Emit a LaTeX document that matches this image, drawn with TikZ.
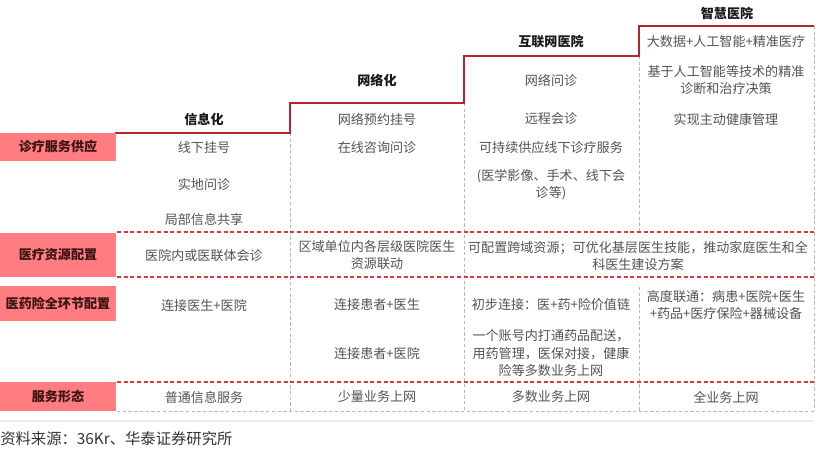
\documentclass[tikz,border=0pt]{standalone}
\usepackage{fontspec}
\setmainfont{Noto Sans CJK SC}
\begin{document}
\begin{tikzpicture}[x=0.75pt,y=-0.75pt,
  txt/.style={font=\fontsize{9.8}{12.75}\selectfont, text=black!68, align=center, inner sep=0pt},
  hdr/.style={font=\fontsize{9.8}{12}\selectfont\bfseries, text=black!90, inner sep=0pt},
  labbox/.style={fill=labfill, draw=none, minimum width=87pt, inner sep=0pt, font=\fontsize{9.8}{12}\selectfont\bfseries, text=labtext},
  stepline/.style={draw=stepred, line width=1.5pt},
  reddash/.style={draw=dashred, line width=1.1pt, dash pattern=on 3pt off 2pt},
  graydash/.style={draw=black!28, line width=0.6pt, dash pattern=on 2.5pt off 1.8pt},
]
\definecolor{labfill}{HTML}{FF7C80}
\definecolor{labtext}{HTML}{3A1414}
\definecolor{stepred}{HTML}{B5262B}
\definecolor{dashred}{HTML}{D9383E}
\useasboundingbox (0,0) rectangle (822,452);

% step line
\coordinate (s0) at (115,133);
\coordinate (s1) at (290,133);
\coordinate (s2) at (290,103);
\coordinate (s3) at (464,103);
\coordinate (s4) at (464,56);
\coordinate (s5) at (639,56);
\coordinate (s6) at (639,26);
\coordinate (s7) at (814,26);

% vertical gray dashed dividers
\draw[graydash] (s1) -- (290,411);
\draw[graydash] (s3) -- (464,411);
\draw[graydash] (s5) -- (639,232);
\draw[graydash] (639,287) -- (639,411);
\draw[graydash] (s7) -- (814,411);
% bottom gray dashed
\draw[graydash] (117,411) -- (814,411);
% red dashed row separators
\draw[reddash] (117,232) -- (814,232);
\draw[reddash] (117,277) -- (814,277);
\draw[reddash] (117,382) -- (814,382);
% faint rule above source
\draw[black!7, line width=0.8pt] (0,421) -- (814,421);

\draw[stepline] (s0) -- (s1) -- (s2) -- (s3) -- (s4) -- (s5) -- (s6) -- (s7);

% headers
\node[hdr] (h1) at (204,119) {信息化};
\node[hdr] (h2) at (377,80) {网络化};
\node[hdr] (h3) at (551,42) {互联网医院};
\node[hdr] (h4) at (727,13) {智慧医院};

% label boxes
\node[labbox, minimum height=21pt] (l1) at (58,147) {诊疗服务供应};
\node[labbox, minimum height=33pt] (l2) at (58,255) {医疗资源配置};
\node[labbox, minimum height=26.25pt] (l3) at (58,303.5) {医药险全环节配置};
\node[labbox, minimum height=21.75pt] (l4) at (58,396.5) {服务形态};

% row 1
\node[txt] (a11) at (204,148) {线下挂号};
\node[txt] (a12) at (204,184) {实地问诊};
\node[txt] (a13) at (204,219) {局部信息共享};
\node[txt] (b11) at (377,119) {网络预约挂号};
\node[txt] (b12) at (377,148) {在线咨询问诊};
\node[txt] (c11) at (551,80) {网络问诊};
\node[txt] (c12) at (551,119) {远程会诊};
\node[txt] (c13) at (551,148) {可持续供应线下诊疗服务};
\node[txt] (c14) at (551,184.5) {(医学影像、手术、线下会\\诊等)};
\node[txt] (d11) at (726,42) {大数据+人工智能+精准医疗};
\node[txt] (d12) at (726,80.5) {基于人工智能等技术的精准\\诊断和治疗决策};
\node[txt] (d13) at (726,119) {实现主动健康管理};

% row 2
\node[txt] (a21) at (204,256) {医院内或医联体会诊};
\node[txt] (b21) at (377,255.5) {区域单位内各层级医院医生\\资源联动};
\node[txt] (c21) at (638,255.5) {可配置跨域资源；可优化基层医生技能，推动家庭医生和全\\科医生建设方案};

% row 3
\node[txt] (a31) at (204,305) {连接医生+医院};
\node[txt] (b31) at (377,305) {连接患者+医生};
\node[txt] (b32) at (377,353) {连接患者+医院};
\node[txt] (c31) at (551,305) {初步连接：医+药+险价值链};
\node[txt, font=\fontsize{9.8}{13.1}\selectfont] (c32) at (551,353.5) {一个账号内打通药品配送，\\用药管理，医保对接，健康\\险等多数业务上网};
\node[txt] (d31) at (726,305.5) {高度联通：病患+医院+医生\\+药品+医疗保险+器械设备};

% row 4
\node[txt] (a41) at (204,397) {普通信息服务};
\node[txt] (b41) at (377,397) {少量业务上网};
\node[txt] (c41) at (551,397) {多数业务上网};
\node[txt] (d41) at (726,397) {全业务上网};

% source
\node[anchor=west, inner sep=0pt, font=\fontsize{11.5}{12}\selectfont, text=black!80] (src) at (0,439) {资料来源：36Kr、华泰证券研究所};
\end{tikzpicture}
\end{document}
